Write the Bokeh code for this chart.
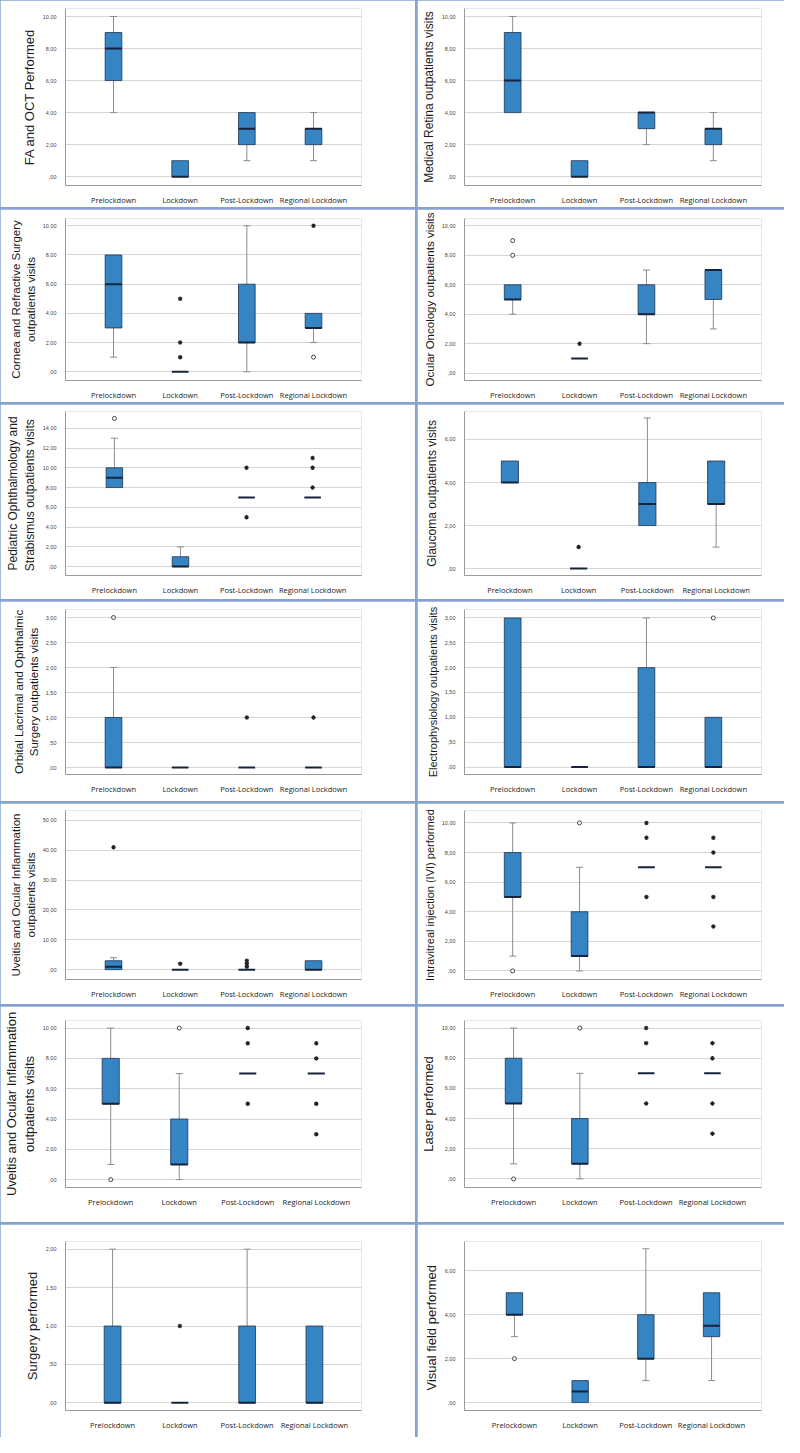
from bokeh.plotting import figure
from bokeh.layouts import gridplot
from bokeh.models import FixedTicker, FactorRange, Range1d, ColumnDataSource
from bokeh.embed import file_html
from bokeh.resources import INLINE

categories = ["Prelockdown", "Lockdown", "Post-Lockdown", "Regional Lockdown"]

# ---- data: lower whisker, Q1, median, Q3, upper whisker per category; outliers as (category index, value)
fa_stats = dict(lw=[4, 0, 1, 1], q1=[6, 0, 2, 2], med=[8, 0, 3, 3], q3=[9, 1, 4, 3], uw=[10, 1, 4, 4])
fa_circles, fa_stars = [], []

mr_stats = dict(lw=[4, 0, 2, 1], q1=[4, 0, 3, 2], med=[6, 0, 4, 3], q3=[9, 1, 4, 3], uw=[10, 1, 4, 4])
mr_circles, mr_stars = [], []

cr_stats = dict(lw=[1, 0, 0, 2], q1=[3, 0, 2, 3], med=[6, 0, 2, 3], q3=[8, 0, 6, 4], uw=[8, 0, 10, 4])
cr_circles = [(3, 1)]
cr_stars = [(1, 5), (1, 2), (1, 1), (3, 10)]

oo_stats = dict(lw=[4, 1, 2, 3], q1=[5, 1, 4, 5], med=[5, 1, 4, 7], q3=[6, 1, 6, 7], uw=[6, 1, 7, 7])
oo_circles = [(0, 9), (0, 8)]
oo_stars = [(1, 2)]

po_stats = dict(lw=[8, 0, 7, 7], q1=[8, 0, 7, 7], med=[9, 0, 7, 7], q3=[10, 1, 7, 7], uw=[13, 2, 7, 7])
po_circles = [(0, 15)]
po_stars = [(2, 10), (2, 5), (3, 11), (3, 10), (3, 8)]

gl_stats = dict(lw=[4, 0, 2, 1], q1=[4, 0, 2, 3], med=[4, 0, 3, 3], q3=[5, 0, 4, 5], uw=[5, 0, 7, 5])
gl_circles = []
gl_stars = [(1, 1)]

ol_stats = dict(lw=[0, 0, 0, 0], q1=[0, 0, 0, 0], med=[0, 0, 0, 0], q3=[1, 0, 0, 0], uw=[2, 0, 0, 0])
ol_circles = [(0, 3)]
ol_stars = [(2, 1), (3, 1)]

ep_stats = dict(lw=[0, 0, 0, 0], q1=[0, 0, 0, 0], med=[0, 0, 0, 0], q3=[3, 0, 2, 1], uw=[3, 0, 3, 1])
ep_circles = [(3, 3)]
ep_stars = []

uv_stats = dict(lw=[0, 0, 0, 0], q1=[0, 0, 0, 0], med=[1, 0, 0, 0], q3=[3, 0, 0, 3], uw=[4, 0, 0, 3])
uv_circles = []
uv_stars = [(0, 41), (1, 2), (2, 1), (2, 2), (2, 3)]

ivi_stats = dict(lw=[1, 0, 7, 7], q1=[5, 1, 7, 7], med=[5, 1, 7, 7], q3=[8, 4, 7, 7], uw=[10, 7, 7, 7])
ivi_circles = [(0, 0), (1, 10)]
ivi_stars = [(2, 10), (2, 9), (2, 5), (3, 9), (3, 8), (3, 5), (3, 3)]

uv2_stats = dict(lw=[1, 0, 7, 7], q1=[5, 1, 7, 7], med=[5, 1, 7, 7], q3=[8, 4, 7, 7], uw=[10, 7, 7, 7])
uv2_circles = [(0, 0), (1, 10)]
uv2_stars = [(2, 10), (2, 9), (2, 5), (3, 9), (3, 8), (3, 5), (3, 3)]

la_stats = dict(lw=[1, 0, 7, 7], q1=[5, 1, 7, 7], med=[5, 1, 7, 7], q3=[8, 4, 7, 7], uw=[10, 7, 7, 7])
la_circles = [(0, 0), (1, 10)]
la_stars = [(2, 10), (2, 9), (2, 5), (3, 9), (3, 8), (3, 5), (3, 3)]

su_stats = dict(lw=[0, 0, 0, 0], q1=[0, 0, 0, 0], med=[0, 0, 0, 0], q3=[1, 0, 1, 1], uw=[2, 0, 2, 1])
su_circles = []
su_stars = [(1, 1)]

vf_stats = dict(lw=[3, 0, 1, 1], q1=[4, 0, 2, 3], med=[4, 0.5, 2, 3.5], q3=[5, 1, 4, 5], uw=[5, 1, 7, 5])
vf_circles = [(0, 2)]
vf_stars = []

ticks_0_10 = [0, 2, 4, 6, 8, 10]
ticks_0_14 = [0, 2, 4, 6, 8, 10, 12, 14]
ticks_0_6 = [0, 2, 4, 6]
ticks_0_3 = [0, 0.5, 1, 1.5, 2, 2.5, 3]
ticks_0_50 = [0, 10, 20, 30, 40, 50]
ticks_0_2 = [0, 0.5, 1, 1.5, 2]

# ---- styling
BOX_FILL = "#3584c3"
BOX_LINE = "#1d3550"
MEDIAN = "#15243a"
WHISKER = "#8c8c8c"
GRID = "#d5d5d5"
AXIS = "#9a9a9a"
SEP = "#86a3cf"
BOX_W = 0.25


def spss(v):
    s = f"{v:.2f}".replace(".", ",")
    if s.startswith("0,"):
        s = s[1:]
    return s


def panel(title, stats, circles, stars, ticks, yr, w, h, borders, pad, fs="12px"):
    L, R, T, B = borders
    p = figure(width=w, height=h, x_range=FactorRange(*categories, range_padding=pad),
               y_range=Range1d(*yr), output_backend="svg", toolbar_location=None,
               min_border_left=L, min_border_right=R, min_border_top=T, min_border_bottom=B)
    p.background_fill_color = "white"
    p.border_fill_color = "white"
    p.outline_line_color = None

    p.xgrid.grid_line_color = None
    p.ygrid.grid_line_color = GRID
    p.ygrid.grid_line_width = 1

    p.yaxis.ticker = FixedTicker(ticks=ticks)
    p.yaxis.major_label_overrides = {t: spss(t) for t in ticks}
    p.yaxis.axis_label = title
    p.yaxis.axis_label_text_font = "Liberation Sans"
    p.yaxis.axis_label_text_font_size = fs
    p.yaxis.axis_label_text_font_style = "normal"
    p.yaxis.axis_label_text_color = "#1a1a1a"
    p.yaxis.axis_label_standoff = 3
    p.yaxis.major_label_text_font = "Liberation Sans"
    p.yaxis.major_label_text_font_size = "5.5px"
    p.yaxis.major_label_text_color = "#444444"
    p.yaxis.major_label_standoff = 3
    p.xaxis.major_label_text_font = "Open Sans"
    p.xaxis.major_label_text_font_size = "7.5px"
    p.xaxis.major_label_text_color = "#222222"
    p.xaxis.major_label_standoff = 3
    for ax in (p.xaxis, p.yaxis):
        ax.axis_line_color = AXIS
        ax.axis_line_width = 1
        ax.major_tick_line_color = None
        ax.minor_tick_line_color = None

    lw, q1, med, q3, uw = stats["lw"], stats["q1"], stats["med"], stats["q3"], stats["uw"]
    idx_box = [i for i in range(4) if q3[i] > q1[i]]
    box = ColumnDataSource(dict(x=[categories[i] for i in idx_box],
                                b=[q1[i] for i in idx_box], t=[q3[i] for i in idx_box]))
    up = [i for i in range(4) if uw[i] > q3[i]]
    lo = [i for i in range(4) if lw[i] < q1[i]]

    # whiskers
    p.segment(x0=[categories[i] for i in up], y0=[q3[i] for i in up],
              x1=[categories[i] for i in up], y1=[uw[i] for i in up],
              line_color=WHISKER, line_width=1)
    p.segment(x0=[categories[i] for i in lo], y0=[lw[i] for i in lo],
              x1=[categories[i] for i in lo], y1=[q1[i] for i in lo],
              line_color=WHISKER, line_width=1)
    p.scatter(x=[categories[i] for i in up], y=[uw[i] for i in up], marker="dash",
              size=7, line_color=WHISKER, line_width=1)
    p.scatter(x=[categories[i] for i in lo], y=[lw[i] for i in lo], marker="dash",
              size=7, line_color=WHISKER, line_width=1)

    # boxes
    p.vbar(x="x", bottom="b", top="t", width=BOX_W, source=box,
           fill_color=BOX_FILL, line_color=BOX_LINE, line_width=0.8)
    # medians
    p.rect(x=categories, y=med, width=BOX_W, height=2, height_units="screen",
           fill_color=MEDIAN, line_color=None)

    if circles:
        p.scatter(x=[categories[c] for c, v in circles], y=[v for c, v in circles],
                  marker="circle", size=4, fill_color="white", line_color="#444444",
                  line_width=1)
    if stars:
        p.scatter(x=[categories[c] for c, v in stars], y=[v for c, v in stars],
                  marker="asterisk", size=4.5, line_color="#222222", line_width=1.1)
    return p


LW, RW = 415, 367
rows = [
    (panel("FA and OCT Performed", fa_stats, fa_circles, fa_stars, ticks_0_10,
           (-0.55, 10.5), LW, 207, (42, 54, 8, 19), 0.11, "13px"),
     panel("Medical Retina outpatients visits", mr_stats, mr_circles, mr_stars, ticks_0_10,
           (-0.55, 10.5), RW, 207, (38, 23, 8, 19), 0.11)),
    (panel("Cornea and Refractive Surgery\noutpatients visits", cr_stats, cr_circles, cr_stars,
           ticks_0_10, (-0.6, 10.5), LW, 193, (47, 54, 9, 16), 0.11, "11.5px"),
     panel("Ocular Oncology outpatients visits", oo_stats, oo_circles, oo_stars, ticks_0_10,
           (-0.5, 10.5), RW, 193, (40, 23, 9, 20), 0.11, "11.5px")),
    (panel("Pediatric Ophthalmology and\nStrabismus  outpatients visits", po_stats, po_circles,
           po_stars, ticks_0_14, (-0.9, 15.7), LW, 195, (50, 51, 7, 24), 0.12),
     panel("Glaucoma outpatients visits", gl_stats, gl_circles, gl_stars, ticks_0_6,
           (-0.32, 7.3), RW, 195, (37, 19, 7, 24), 0.08)),
    (panel("Orbital Lacrimal and Ophthalmic\nSurgery outpatients visits", ol_stats, ol_circles,
           ol_stars, ticks_0_3, (-0.14, 3.16), LW, 200, (48, 51, 8, 27), 0.11, "11.5px"),
     panel("Electrophysiology outpatients visits", ep_stats, ep_circles, ep_stars, ticks_0_3,
           (-0.15, 3.17), RW, 200, (41, 19, 8, 23), 0.11, "11px")),
    (panel("Uveitis and Ocular Inflammation\noutpatients visits", uv_stats, uv_circles, uv_stars,
           ticks_0_50, (-3.3, 53.3), LW, 201, (50, 51, 7, 25), 0.11, "11.5px"),
     panel("Intravitreal injection (IVI) performed", ivi_stats, ivi_circles, ivi_stars,
           ticks_0_10, (-0.58, 10.84), RW, 201, (37, 19, 7, 21), 0.11, "11px")),
    (panel("Uveitis and Ocular Inflammation\noutpatients visits", uv2_stats, uv2_circles,
           uv2_stars, ticks_0_10, (-0.52, 10.5), LW, 216, (59, 30, 14, 35), 0.08, "13px"),
     panel("Laser performed", la_stats, la_circles, la_stars, ticks_0_10,
           (-0.57, 10.5), RW, 216, (32, 2, 14, 30), 0.12, "13px")),
    (panel("Surgery performed", su_stats, su_circles, su_stars, ticks_0_2,
           (-0.1, 2.1), LW, 213, (44, 15, 17, 24), 0.1, "13px"),
     panel("Visual field  performed", vf_stats, vf_circles, vf_stars, ticks_0_6,
           (-0.36, 7.33), RW, 213, (25, 2, 17, 27), 0.13, "13px")),
]

grid = gridplot([list(r) for r in rows], toolbar_location=None)
grid.spacing = 2
grid.styles = {"background-color": SEP}

open("out.html", "w").write(file_html(grid, INLINE))
